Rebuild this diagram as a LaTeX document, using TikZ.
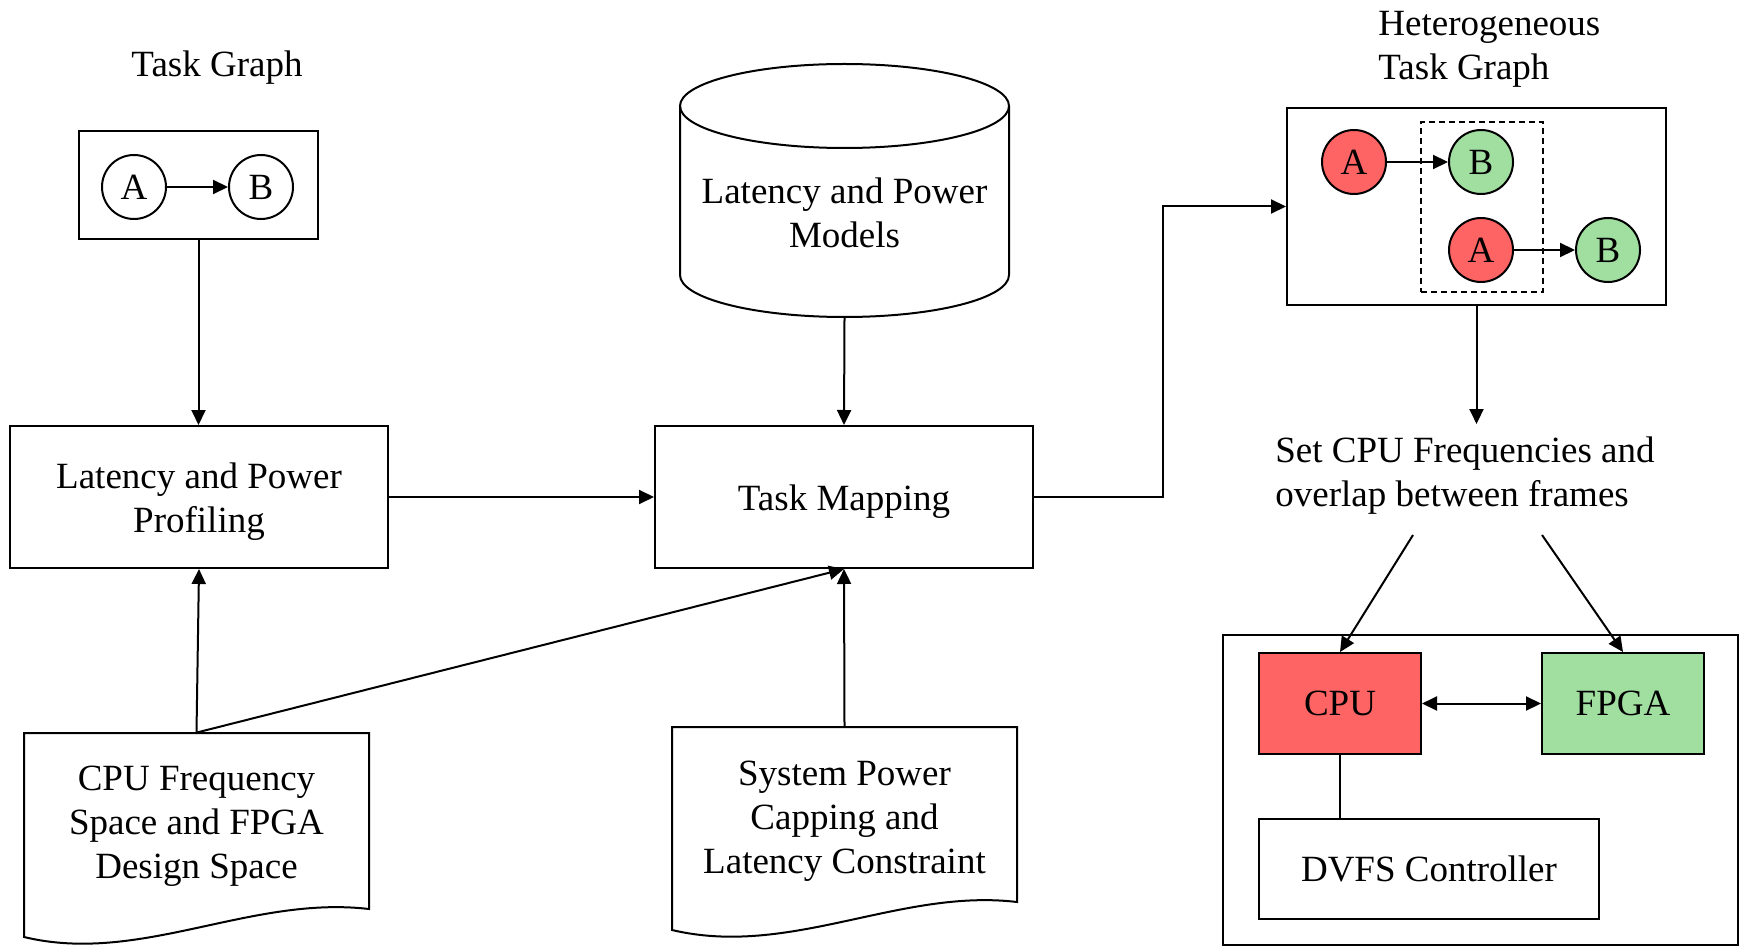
\documentclass[tikz,border=0pt]{standalone}
\usepackage{fontspec}
\setmainfont{Liberation Serif}
\usetikzlibrary{arrows.meta,calc}
\definecolor{cpured}{RGB}{255,100,100}
\definecolor{fpgagreen}{RGB}{161,223,161}
\newcommand{\tstrut}{\rule{0pt}{17.5pt}}
\tikzset{
  block/.style={ % plain process box
    draw, rectangle, line width=1pt,
    minimum width=189pt, minimum height=71pt,
    align=center, inner sep=2pt, text=black
  },
  task/.style={ % one task of a task graph
    draw, circle, line width=1pt,
    minimum size=32pt, inner sep=0pt, text=black
  },
  redtask/.style={task, fill=cpured},
  greentask/.style={task, fill=fpgagreen},
  outerbox/.style={ % empty frame round a group
    draw, rectangle, line width=1pt, inner sep=0pt
  },
  doc/.style={ % text of a document or store, outline drawn apart
    rectangle, minimum width=172.5pt, align=center, inner sep=0pt
  },
  link/.style={->, line width=1pt}
}

\begin{document}
\begin{tikzpicture}[
      x=0.5pt, y=-0.5pt,
      >={Triangle[length=7.5pt,width=7pt]},
      font=\fontsize{18.5}{22.2}\selectfont
    ]
      \useasboundingbox (0,0) rectangle (1743,946);

      \node (tg_label) at (217,63) {\tstrut Task Graph};
      \node[outerbox, minimum width=119.5pt, minimum height=54pt] (tg) at (198.5,185) {};
      \node[task] (A) at (134,187) {A};
      \node[task] (B) at (261,187) {B};
      \draw[link] (A) -- (B);

      \node[block] (prof) at (199,497) {\tstrut Latency and Power\\Profiling};
      \node[block] (map) at (844,497) {\tstrut Task Mapping};

      \draw[line width=1pt] (844.5,106) ellipse [x radius=82.25pt, y radius=21pt];
      \draw[line width=1pt] (680,106) -- (680,275)
        arc [start angle=180, end angle=360, x radius=82.25pt, y radius=21pt] -- (1009,106);
      \node[doc, minimum height=104pt] (models) at (844.5,213) {Latency and Power\\Models};

      \draw[line width=1pt] (24,733) -- (369,733) -- (369,909)
        .. controls (250,895) and (140,965) .. (24,937) -- cycle;
      \node[doc, minimum height=88pt] (cpu_doc) at (196.5,821) {\tstrut CPU Frequency\\Space and FPGA\\Design Space};
      \draw[line width=1pt] (672,727) -- (1017,727) -- (1017,902)
        .. controls (900,888) and (790,958) .. (672,930) -- cycle;
      \node[doc, minimum height=89pt] (sys_doc) at (844.5,816) {\tstrut System Power\\Capping and\\Latency Constraint};

      \node[align=left, anchor=west, inner sep=0pt] (het_label) at (1378,44) {\tstrut Heterogeneous\\Task Graph};
      \node[outerbox, minimum width=189.5pt, minimum height=98.5pt] (het) at (1476.5,206.5) {};
      \node[outerbox, dash pattern=on 3pt off 2pt, minimum width=61pt, minimum height=85pt] (overlap) at (1482,207) {};
      \node[redtask] (A1) at (1354,162) {A};
      \node[greentask] (B1) at (1481,162) {B};
      \node[redtask] (A2) at (1481,250) {A};
      \node[greentask] (B2) at (1608,250) {B};
      \draw[link] (A1) -- (B1);
      \draw[link] (A2) -- (B2);

      \node[align=left, anchor=north west, inner xsep=5pt, inner ysep=1.35pt] (set_text) at (1265,424)
        {\tstrut Set CPU Frequencies and\\overlap between frames};

      \node[outerbox, minimum width=257.5pt, minimum height=155pt] (soc) at (1480.5,790) {};
      \node[block, fill=cpured, minimum width=81pt, minimum height=50.5pt] (cpu) at (1340,703.5) {CPU};
      \node[block, fill=fpgagreen, minimum width=81pt, minimum height=50.5pt] (fpga) at (1623,703.5) {FPGA};
      \node[block, minimum width=170pt, minimum height=50pt] (dvfs) at (1429,869) {DVFS Controller};
      \coordinate (s1) at (1413,535);
      \coordinate (s2) at (1542,535);

      \draw[link] (tg.south) -- (tg.south |- prof.north);
      \draw[link] (prof) -- (map);
      \draw[link] (models.south) -- (map.north);
      \draw[link] (sys_doc.north) -- (map.south);
      \draw[link] (cpu_doc.north) -- (prof.south);
      \draw[link] (cpu_doc.north) -- (map.south);
      \draw[link] (map.east) -- ++(129,0) |- (het.west);
      \draw[link] (het.south) -- (het.south |- set_text.north);
      \draw[link] (s1) -- (cpu.north);
      \draw[link] (s2) -- (fpga.north);
      \draw[link, <->] (cpu) -- (fpga);
      \draw[line width=1pt] (cpu) -- (cpu |- dvfs.north);
    \end{tikzpicture}
\end{document}
